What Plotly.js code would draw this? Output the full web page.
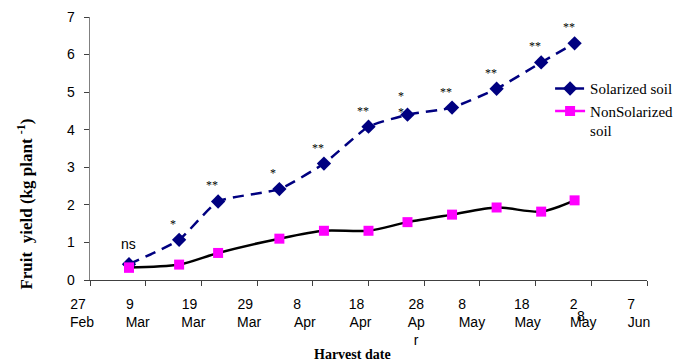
<!DOCTYPE html>
<html>
<head>
<meta charset="utf-8">
<script src="https://cdn.plot.ly/plotly-3.0.1.min.js"></script>
<style>html,body{margin:0;padding:0;background:#fff;}#chart{width:680px;height:362px;}</style>
</head>
<body>
<div id="chart"></div>
<script>
// Harvest dates (points)
const harvestDates = ['2005-03-06','2005-03-15','2005-03-22','2005-04-02','2005-04-10','2005-04-18','2005-04-25','2005-05-03','2005-05-11','2005-05-19','2005-05-25'];
// Fruit yield (kg plant-1)
const solarized    = [0.42, 1.07, 2.09, 2.42, 3.10, 4.08, 4.40, 4.59, 5.09, 5.79, 6.30];
const nonSolarized = [0.33, 0.41, 0.72, 1.10, 1.31, 1.31, 1.54, 1.74, 1.93, 1.82, 2.12];
// Significance labels above solarized points
const sigLabels = ['ns','*','**','*','**','**','*<br>*','**','**','**','**'];
// X axis ticks (day number padded so it sits left-aligned over the month, as in the original)
const tickDates = ['2005-02-27','2005-03-09','2005-03-19','2005-03-29','2005-04-08','2005-04-18','2005-04-28','2005-05-08','2005-05-18','2005-05-28','2005-06-07'];
const NB = '\u00A0';
const tickLabels = [
  '27' + NB.repeat(2) + '<br>Feb',
  '9' + NB.repeat(4) + '<br>Mar',
  '19' + NB.repeat(2) + '<br>Mar',
  '29' + NB.repeat(2) + '<br>Mar',
  '8' + NB.repeat(4) + '<br>Apr',
  '18' + NB.repeat(2) + '<br>Apr',
  '28<br>Ap<br>r',
  '8' + NB.repeat(5) + '<br>May',
  '18' + NB.repeat(3) + '<br>May',
  '2' + NB.repeat(5) + '<br>May',
  '7' + NB.repeat(4) + '<br>Jun'
];

const serif = 'Liberation Serif';
const sans = 'Liberation Sans';

const traces = [
  {
    x: harvestDates, y: solarized, name: 'Solarized soil', type: 'scatter', mode: 'lines+markers',
    line: {color: '#000080', width: 2.5, dash: '11px,7px', shape: 'spline', smoothing: 0.5},
    marker: {symbol: 'diamond', size: 11, color: '#000080'}
  },
  {
    x: harvestDates, y: nonSolarized, type: 'scatter', mode: 'lines', showlegend: false,
    line: {color: '#000000', width: 2.5, shape: 'spline', smoothing: 0.8}
  },
  {
    x: harvestDates, y: nonSolarized, type: 'scatter', mode: 'markers', showlegend: false,
    marker: {symbol: 'square', size: 10, color: '#FF00FF'}
  },
  {
    // legend entry for the non-solarized series (one point, drawn exactly over the first marker)
    x: harvestDates.slice(0, 1), y: nonSolarized.slice(0, 1), name: 'NonSolarized<br>soil', type: 'scatter', mode: 'lines+markers',
    line: {color: '#FF00FF', width: 2.5},
    marker: {symbol: 'square', size: 10, color: '#FF00FF'}
  }
];

const annotations = harvestDates.map((d, i) => ({
  x: d, y: solarized[i], xref: 'x', yref: 'y', text: sigLabels[i], showarrow: false,
  xanchor: 'center', yanchor: 'middle',
  xshift: i === 0 ? 0 : -6,
  yshift: i === 0 ? 20 : (sigLabels[i] === '*<br>*' ? 11 : 16),
  font: i === 0 ? {family: sans, size: 14, color: '#000'} : {family: serif, size: 12, color: '#000'}
}));
annotations.push({
  x: '2005-05-28', xref: 'x', y: -0.137, yref: 'paper', text: '8', showarrow: false,
  xanchor: 'center', yanchor: 'middle',
  xshift: -10, font: {family: sans, size: 14, color: '#000'}
});
annotations.push({
  x: -0.117, xref: 'paper', y: 0.29, yref: 'paper', text: 'Fruit  yield (kg plant <sup>-1</sup>)',
  xanchor: 'center', yanchor: 'middle',
  textangle: -90, showarrow: false, font: {family: serif, size: 17, color: '#000', weight: 'bold'}
});
annotations.push({
  x: 0.472, xref: 'paper', y: -0.283, yref: 'paper', text: 'Harvest date',
  xanchor: 'center', yanchor: 'middle',
  showarrow: false, font: {family: serif, size: 14, color: '#000', weight: 'bold'}
});

const layout = {
  width: 680, height: 362,
  margin: {l: 90, r: 33.3, t: 17.3, b: 82, autoexpand: false},
  paper_bgcolor: '#fff', plot_bgcolor: '#fff',
  font: {family: serif, color: '#000'},
  showlegend: true,
  legend: {x: 0.826, y: 0.79, xanchor: 'left', yanchor: 'top', valign: 'top',
           font: {family: serif, size: 15, color: '#000'}, bgcolor: 'rgba(0,0,0,0)'},
  xaxis: {
    type: 'date', range: ['2005-02-27', '2005-06-07'], automargin: false,
    tickvals: tickDates, ticktext: tickLabels, ticklabelshift: -8, ticklabelstandoff: 6,
    ticks: 'outside', ticklen: 5, tickcolor: '#404040', tickwidth: 1,
    showline: true, linecolor: '#404040', linewidth: 1, showgrid: false, zeroline: false,
    tickfont: {family: sans, size: 14, color: '#000'}, fixedrange: true
  },
  yaxis: {
    range: [0, 7], dtick: 1, tick0: 0, automargin: false,
    ticks: 'outside', ticklen: 5, tickcolor: '#404040', tickwidth: 1, ticklabelstandoff: 6,
    showline: true, linecolor: '#808080', linewidth: 1.5, showgrid: false, zeroline: false,
    tickfont: {family: sans, size: 14, color: '#000'}, fixedrange: true
  },
  annotations: annotations
};

Plotly.newPlot('chart', traces, layout, {displayModeBar: false, staticPlot: true});
</script>
</body>
</html>
